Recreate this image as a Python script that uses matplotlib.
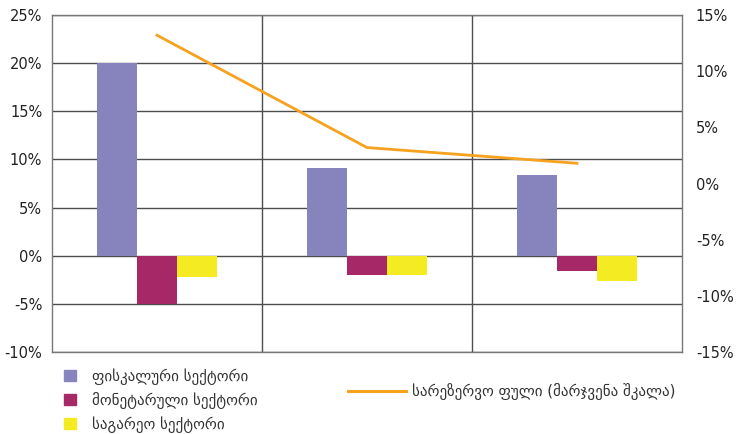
import matplotlib
matplotlib.use("Agg")
import matplotlib.pyplot as plt
import numpy as np
from matplotlib.patches import Patch
from matplotlib.lines import Line2D
from matplotlib.ticker import FuncFormatter

plt.rcParams['font.family'] = ['DejaVu Sans']

# three periods, no axis labels shown
periods = ["I", "II", "III"]
fiscal = [20.0, 9.1, 8.4]
monetary = [-5.0, -2.0, -1.6]
external = [-2.2, -2.0, -2.6]
reserve_money = [13.2, 3.2, 1.8]

series_names = ["ფისკალური სექტორი", "მონეტარული სექტორი", "საგარეო სექტორი"]
line_name = "სარეზერვო ფული (მარჯვენა შკალა)"

left_ticks = [-10, -5, 0, 5, 10, 15, 20, 25]
right_ticks = [-15, -10, -5, 0, 5, 10, 15]

c_fiscal = "#8783BD"
c_monetary = "#A72866"
c_external = "#F5EB22"
c_line = "#F6A21E"
grid_c = "#4d4d4d"

fig = plt.figure(figsize=(7.37, 4.34), dpi=100)
ax = fig.add_axes([52/737, 1-352/434, 630/737, 337/434])

x = np.arange(len(periods))
w = 0.19
ax.bar(x - w, fiscal, w, color=c_fiscal, zorder=3)
ax.bar(x, monetary, w, color=c_monetary, zorder=3)
ax.bar(x + w, external, w, color=c_external, zorder=3)

ax.set_xlim(-0.5, len(periods) - 0.5)
ax.set_ylim(left_ticks[0], left_ticks[-1])
ax.set_yticks(left_ticks)
ax.yaxis.set_major_formatter(FuncFormatter(lambda v, p: f"{v:.0f}%"))
ax.set_xticks([])
for t in left_ticks:
    ax.axhline(t, color=grid_c, lw=1.0, zorder=1)
for b in np.arange(0.5, len(periods) - 0.5, 1):
    ax.axvline(b, color=grid_c, lw=1.0, zorder=1)
for s in ax.spines.values():
    s.set_color("#777777")
    s.set_linewidth(1.0)
ax.tick_params(axis="y", length=0, pad=7, labelsize=10.5, colors="#222222")

ax2 = ax.twinx()
ax2.plot(x, reserve_money, color=c_line, lw=2.0, zorder=4)
ax2.set_ylim(right_ticks[0], right_ticks[-1])
ax2.set_yticks(right_ticks)
ax2.yaxis.set_major_formatter(FuncFormatter(lambda v, p: f"{v:.0f}%"))
ax2.tick_params(axis="y", length=0, pad=10, labelsize=10.5, colors="#222222")
for s in ax2.spines.values():
    s.set_visible(False)

handles = [Patch(color=c) for c in (c_fiscal, c_monetary, c_external)]
fig.legend(handles, series_names, loc="upper left",
           bbox_to_anchor=(64/737, 1-368/434), frameon=False,
           borderpad=0, borderaxespad=0,
           fontsize=10.8, handlelength=0.8, handleheight=0.8,
           handletextpad=1.1, labelspacing=0.48, labelcolor="#333333")
fig.legend([Line2D([0], [0], color=c_line, lw=2.2)], [line_name],
           loc="upper left", bbox_to_anchor=(348/737, 1-383/434),
           frameon=False, borderpad=0, borderaxespad=0,
           fontsize=10.8, handlelength=3.85,
           handletextpad=0.45, labelcolor="#333333")

fig.savefig("out.png", dpi=100)
